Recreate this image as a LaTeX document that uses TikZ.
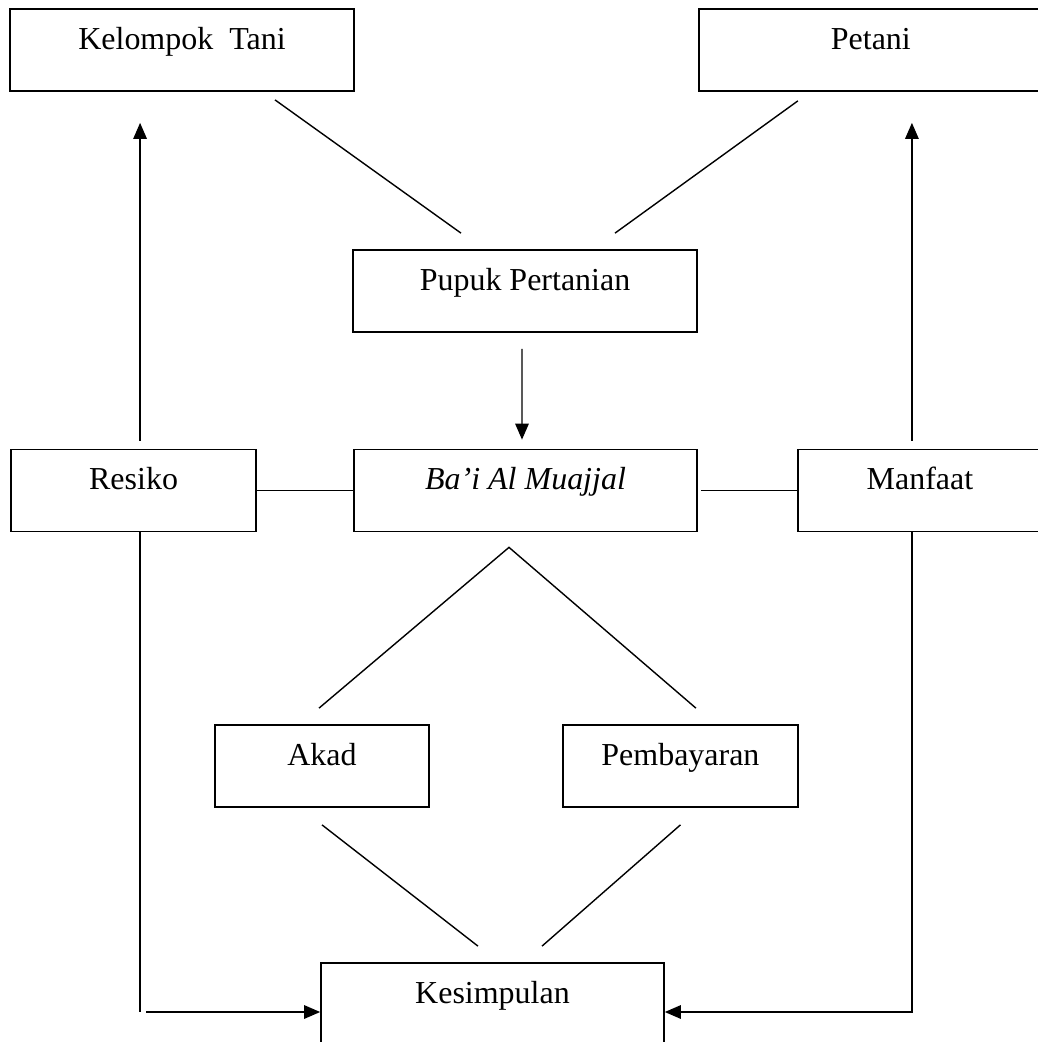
\documentclass[tikz,border=0pt]{standalone}
\usepackage{fontspec}
\setmainfont{Liberation Serif}
\usetikzlibrary{arrows.meta}
\tikzset{
    kotak/.style={draw,rectangle,line width=1pt,inner sep=0pt,text height=0.8cm,text depth=0.84cm,font=\fontsize{18.2}{22}\selectfont}
}
\begin{document}
\begin{tikzpicture}[thick,x=0.02cm,y=-0.02cm,>={Triangle[length=0.32cm,width=0.27cm]}]
    \useasboundingbox (0,0) rectangle (1038,1042);
    \node (kelompok) [kotak,minimum width=6.88cm] at (182,50) {Kelompok\ \ Tani};
    \node (petani) [kotak,minimum width=6.88cm,right of=kelompok,node distance=13.78cm] {Petani};
    \node (pupuk) [kotak,minimum width=6.88cm] at (525,291) {Pupuk Pertanian};
    \node (bai) [kotak,minimum width=6.86cm] at (525.5,490.5) {\itshape Ba’i Al Muajjal};
    \node (resiko) [kotak,minimum width=4.9cm,left of=bai,node distance=7.84cm] {Resiko};
    \node (manfaat) [kotak,minimum width=4.88cm,right of=bai,node distance=7.89cm] {Manfaat};
    \node (akad) [kotak,minimum width=4.28cm] at (322,766) {Akad};
    \node (pembayaran) [kotak,minimum width=4.7cm,right of=akad,node distance=7.17cm] {Pembayaran};
    \node (kesimpulan) [kotak,minimum width=6.86cm] at (492.5,1004) {Kesimpulan};
    \draw ([xshift=1.86cm,yshift=-0.16cm]kelompok.south) -- ([xshift=-1.28cm,yshift=0.32cm]pupuk.north);
    \draw ([xshift=-1.46cm,yshift=-0.18cm]petani.south) -- ([xshift=1.8cm,yshift=0.32cm]pupuk.north);
    \draw [->] ([xshift=-0.06cm,yshift=-0.32cm]pupuk.south) -- ([xshift=-0.07cm,yshift=0.18cm]bai.north);
    \coordinate (rnaik) at ([xshift=0.13cm,yshift=0.16cm]resiko.north);
    \coordinate (mnaik) at ([xshift=-0.16cm,yshift=0.16cm]manfaat.north);
    \coordinate (katas) at ([yshift=-0.62cm]kelompok.south);
    \draw [->] (rnaik) -- (rnaik |- katas);
    \draw [->] (mnaik) -- (mnaik |- katas);
    \draw (resiko.east) -- (bai.west);
    \draw ([xshift=0.06cm]bai.east) -- (manfaat.west);
    \draw ([xshift=-0.06cm,yshift=0.32cm]akad.north) -- ([xshift=-0.33cm,yshift=-0.3cm]bai.south) -- ([xshift=0.31cm,yshift=0.32cm]pembayaran.north);
    \draw ([yshift=-0.34cm]akad.south) -- ([xshift=-0.29cm,yshift=0.32cm]kesimpulan.north);
    \draw ([yshift=-0.34cm]pembayaran.south) -- ([xshift=0.99cm,yshift=0.32cm]kesimpulan.north);
    \coordinate (rturun) at ([xshift=0.13cm]resiko.south);
    \coordinate (mturun) at ([xshift=-0.16cm]manfaat.south);
    \coordinate (kkiri) at ([yshift=-0.16cm]kesimpulan.west);
    \coordinate (kkanan) at ([yshift=-0.16cm]kesimpulan.east);
    \coordinate (rsudut) at (rturun |- kkiri);
    \draw (rturun) -- (rsudut);
    \draw [->] ([xshift=0.12cm]rsudut) -- (kkiri);
    \draw [->] (mturun) |- (kkanan);
\end{tikzpicture}
\end{document}
